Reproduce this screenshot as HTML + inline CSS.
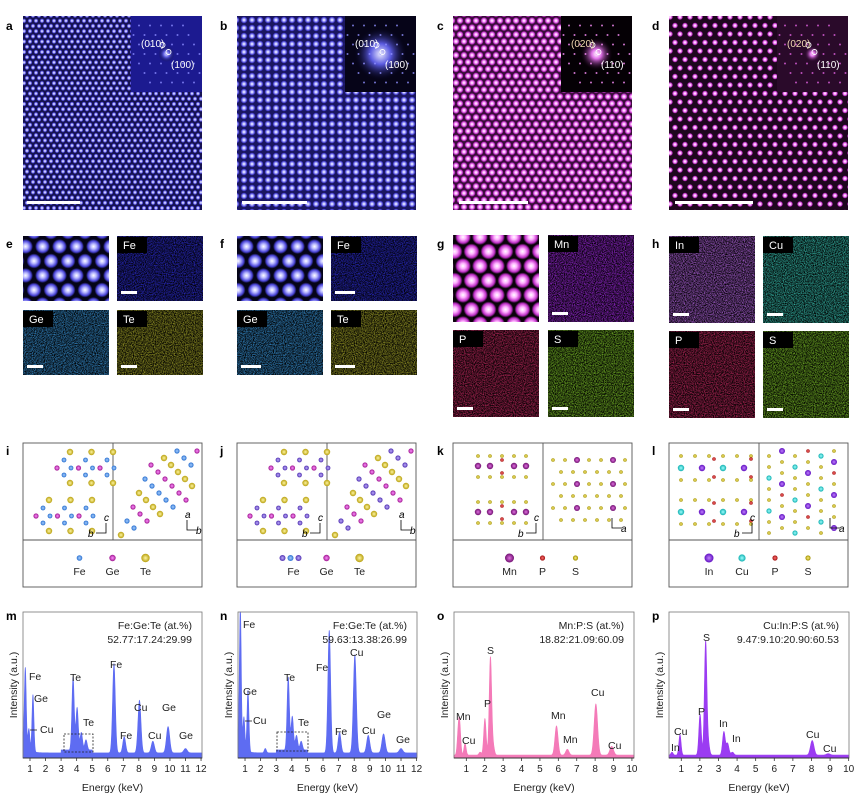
<!DOCTYPE html>
<html><head><meta charset="utf-8">
<style>
html,body{margin:0;padding:0;background:#fff;}
svg{display:block;font-family:"Liberation Sans",sans-serif;}
</style></head>
<body>
<svg id="fig" width="866" height="798" viewBox="0 0 866 798" xmlns="http://www.w3.org/2000/svg">
<defs>
  <radialGradient id="gBlue"><stop offset="0" stop-color="#ffffff"/><stop offset="0.35" stop-color="#b8b8ff"/><stop offset="0.75" stop-color="#4a44d8"/><stop offset="1" stop-color="#4a44d8" stop-opacity="0"/></radialGradient>
  <radialGradient id="gPink"><stop offset="0" stop-color="#ffffff"/><stop offset="0.35" stop-color="#ffb0ff"/><stop offset="0.75" stop-color="#c030c8"/><stop offset="1" stop-color="#c030c8" stop-opacity="0"/></radialGradient>
  <radialGradient id="gGlowB"><stop offset="0" stop-color="#e8e8ff"/><stop offset="0.4" stop-color="#5a5ae0"/><stop offset="1" stop-color="#0a0a30" stop-opacity="0"/></radialGradient>
  <radialGradient id="gGlowP"><stop offset="0" stop-color="#ffffff"/><stop offset="0.3" stop-color="#e070e8"/><stop offset="1" stop-color="#200020" stop-opacity="0"/></radialGradient>
  <pattern id="pa" width="6" height="10.4" patternUnits="userSpaceOnUse"><rect width="6" height="10.4" fill="#151250"/><circle cx="0" cy="0" r="2.4" fill="url(#gBlue)"/><circle cx="6" cy="0" r="2.4" fill="url(#gBlue)"/><circle cx="3" cy="5.2" r="2.4" fill="url(#gBlue)"/><circle cx="0" cy="10.4" r="2.4" fill="url(#gBlue)"/><circle cx="6" cy="10.4" r="2.4" fill="url(#gBlue)"/></pattern>
  <pattern id="pb" width="8" height="8" patternUnits="userSpaceOnUse"><rect width="8" height="8" fill="#1a1660"/><circle cx="4" cy="4" r="3.5" fill="url(#gBlue)"/></pattern>
  <pattern id="pc" width="8" height="13.8" patternUnits="userSpaceOnUse"><rect width="8" height="13.8" fill="#3a0c3a"/><circle cx="0" cy="0" r="3.5" fill="url(#gPink)"/><circle cx="8" cy="0" r="3.5" fill="url(#gPink)"/><circle cx="4" cy="6.9" r="3.5" fill="url(#gPink)"/><circle cx="0" cy="13.8" r="3.5" fill="url(#gPink)"/><circle cx="8" cy="13.8" r="3.5" fill="url(#gPink)"/></pattern>
  <pattern id="pd" width="10" height="17" patternUnits="userSpaceOnUse"><rect width="10" height="17" fill="#1e061e"/><circle cx="0" cy="0" r="3" fill="url(#gPink)"/><circle cx="10" cy="0" r="3" fill="url(#gPink)"/><circle cx="5" cy="8.5" r="3" fill="url(#gPink)"/><circle cx="0" cy="17" r="3" fill="url(#gPink)"/><circle cx="10" cy="17" r="3" fill="url(#gPink)"/></pattern>
  <pattern id="pe" width="17" height="29" patternUnits="userSpaceOnUse"><rect width="17" height="29" fill="#050418"/><circle cx="0" cy="0" r="7.5" fill="url(#gBlue)"/><circle cx="17" cy="0" r="7.5" fill="url(#gBlue)"/><circle cx="8.5" cy="14.5" r="7.5" fill="url(#gBlue)"/><circle cx="0" cy="29" r="7.5" fill="url(#gBlue)"/><circle cx="17" cy="29" r="7.5" fill="url(#gBlue)"/></pattern>
  <pattern id="pg" width="17" height="29" patternUnits="userSpaceOnUse" patternTransform="translate(4,5)"><rect width="17" height="29" fill="#0a020a"/><circle cx="0" cy="0" r="8" fill="url(#gPink)"/><circle cx="17" cy="0" r="8" fill="url(#gPink)"/><circle cx="8.5" cy="14.5" r="8" fill="url(#gPink)"/><circle cx="0" cy="29" r="8" fill="url(#gPink)"/><circle cx="17" cy="29" r="8" fill="url(#gPink)"/></pattern>
  <radialGradient id="aFe"><stop offset="0" stop-color="#a8d0ff"/><stop offset="1" stop-color="#2a70d0"/></radialGradient>
  <radialGradient id="aGe"><stop offset="0" stop-color="#ff90ff"/><stop offset="1" stop-color="#a01890"/></radialGradient>
  <radialGradient id="aTe"><stop offset="0" stop-color="#fff6a0"/><stop offset="1" stop-color="#b8a010"/></radialGradient>
  <radialGradient id="aFe2"><stop offset="0" stop-color="#c0b0ff"/><stop offset="1" stop-color="#5030b0"/></radialGradient>
  <radialGradient id="aMn"><stop offset="0" stop-color="#e070e0"/><stop offset="1" stop-color="#701070"/></radialGradient>
  <radialGradient id="aP"><stop offset="0" stop-color="#ff7070"/><stop offset="1" stop-color="#a01010"/></radialGradient>
  <radialGradient id="aS"><stop offset="0" stop-color="#fff080"/><stop offset="1" stop-color="#a09000"/></radialGradient>
  <radialGradient id="aIn"><stop offset="0" stop-color="#c080ff"/><stop offset="1" stop-color="#6010c0"/></radialGradient>
  <radialGradient id="aCu"><stop offset="0" stop-color="#a0ffff"/><stop offset="1" stop-color="#10b0b0"/></radialGradient>
</defs>
<g id="root"></g>
</svg>
<script>
// ---------------- spectra data ----------------
const mEnergies = [0.70, 0.93, 1.19, 3.77, 4.03, 4.30, 4.60, 6.40, 7.06, 8.04, 8.90, 9.88, 11.0];
const mHeights  = [0.52, 0.14, 0.39, 0.50, 0.29, 0.12, 0.07, 0.61, 0.11, 0.36, 0.08, 0.18, 0.03];
const nEnergies = [0.70, 0.93, 1.19, 2.30, 3.77, 4.03, 4.30, 4.60, 6.40, 7.06, 8.04, 8.90, 9.88, 11.0];
const nHeights  = [0.94, 0.22, 0.42, 0.03, 0.50, 0.23, 0.10, 0.06, 0.84, 0.14, 0.67, 0.12, 0.13, 0.03];
const oEnergies = [0.56, 0.64, 0.93, 1.75, 2.01, 2.31, 2.46, 5.90, 6.49, 8.04, 8.90];
const oHeights  = [0.14, 0.19, 0.08, 0.02, 0.25, 0.67, 0.06, 0.20, 0.04, 0.35, 0.06];
const pEnergies = [0.50, 0.93, 2.01, 2.31, 2.46, 3.29, 3.49, 3.75, 8.04, 8.90];
const pHeights  = [0.02, 0.14, 0.28, 0.78, 0.07, 0.16, 0.08, 0.02, 0.10, 0.01];
const mTicks = [1,2,3,4,5,6,7,8,9,10,11,12];
const oTicks = [1,2,3,4,5,6,7,8,9,10];

const NS = "http://www.w3.org/2000/svg";
const root = document.getElementById('root');
function mk(tag, attrs, parent) {
  const e = document.createElementNS(NS, tag);
  for (const k in attrs) e.setAttribute(k, attrs[k]);
  (parent || root).appendChild(e);
  return e;
}
function txt(s, x, y, size, parent, extra) {
  const a = Object.assign({x: x, y: y, 'font-size': size, fill: '#222'}, extra || {});
  const t = mk('text', a, parent);
  t.textContent = s;
  return t;
}

const letters = [['a',6,30],['b',220,30],['c',437,30],['d',652,30],['e',6,248],['f',220,248],['g',437,248],['h',652,248],
 ['i',6,455],['j',220,455],['k',437,455],['l',652,455],['m',6,620],['n',220,620],['o',437,620],['p',652,620]];
letters.forEach(l => {
  const t = txt(l[0], l[1], l[2], 12, root, {'font-weight':'bold', fill:'#000'});
  
  
});

// ---------------- Row 1 ----------------
const tops = [
  {k:'a', x:23, pat:'pa', inset:'#1c1a90', glow:'gGlowB', gr:8, spots:'#8a8aff', l1:'(010)', l2:'(100)', bar:[27,80]},
  {k:'b', x:237, pat:'pb', inset:'#060418', glow:'gGlowB', gr:26, spots:'#9090ff', l1:'(010)', l2:'(100)', bar:[242,307]},
  {k:'c', x:453, pat:'pc', inset:'#050005', glow:'gGlowP', gr:16, spots:'#ff90ff', l1:'(020)', l2:'(110)', bar:[459,528]},
  {k:'d', x:669, pat:'pd', inset:'#2a0a2a', glow:'gGlowP', gr:8, spots:'#e060e0', l1:'(020)', l2:'(110)', bar:[675,753]}
];
tops.forEach(p => {
  const g = mk('g', {});
  
  
  mk('rect', {x:p.x, y:16, width:179, height:194, fill:'url(#'+p.pat+')'}, g);
  const ins = mk('g', {}, g);
  
  
  const ix = p.x + 108, iy = 16, iw = 71, ih = 76;
  mk('rect', {x:ix, y:iy, width:iw, height:ih, fill:p.inset}, ins);
  mk('circle', {cx:ix+iw/2, cy:iy+ih/2, r:p.gr, fill:'url(#'+p.glow+')'}, ins);
  for (let i=-3;i<=3;i++) for (let j=-3;j<=3;j++) {
    const sx = ix + iw/2 + i*11 + j*5.5, sy = iy + ih/2 + j*9.5;
    if (sx>ix+2 && sx<ix+iw-2 && sy>iy+2 && sy<iy+ih-2) mk('circle', {cx:sx, cy:sy, r:1, fill:p.spots, opacity:0.8}, ins);
  }
  mk('circle', {cx:ix+iw/2-4, cy:iy+29, r:2.5, fill:'none', stroke:'#fff', 'stroke-width':0.9}, ins);
  mk('circle', {cx:ix+iw/2+2, cy:iy+36, r:2.5, fill:'none', stroke:'#fff', 'stroke-width':0.9}, ins);
  txt(p.l1, ix+10, iy+31, 10, ins, {fill: p.k==='c'||p.k==='d' ? '#f0d8b0':'#fff'});
  txt(p.l2, ix+40, iy+52, 10, ins, {fill:'#fff'});
  const sb = mk('rect', {x:p.bar[0], y:201, width:p.bar[1]-p.bar[0], height:3, fill:'#fff'}, g);
  
  
});

// ---------------- Row 2: EDS maps ----------------
function noiseFilter(id, r, gg, b, seed) {
  const f = mk('filter', {id:id, x:0, y:0, width:'100%', height:'100%', 'color-interpolation-filters':'sRGB'});
  mk('feTurbulence', {type:'fractalNoise', baseFrequency:0.9, numOctaves:2, seed:seed, result:'n'}, f);
  const k = 1.5, o = -0.42;
  mk('feColorMatrix', {type:'matrix', values:
    (r*k)+' 0 0 0 '+(r*o)+' '+(gg*k)+' 0 0 0 '+(gg*o)+' '+(b*k)+' 0 0 0 '+(b*o)+' 0 0 0 0 1'}, f);
}
const mapColors = {
  Fe:[0.20,0.20,0.95], Ge:[0.25,0.65,0.95], Te:[0.72,0.72,0.18], Mn:[0.70,0.18,0.98],
  P:[0.85,0.18,0.42], S:[0.55,0.85,0.18], In:[0.80,0.45,1.0], Cu:[0.25,0.85,0.78]
};
let seed = 1;
for (const k in mapColors) { noiseFilter('n'+k, mapColors[k][0], mapColors[k][1], mapColors[k][2], seed++); }

const rows2 = [
  {k:'e', x:[23,117], y:[236,310], tiles:['img','Fe','Ge','Te'], pat:'pe', h:65},
  {k:'f', x:[237,331], y:[236,310], tiles:['img','Fe','Ge','Te'], pat:'pe', h:65},
  {k:'g', x:[453,548], y:[235,330], tiles:['img','Mn','P','S'], pat:'pg', h:87},
  {k:'h', x:[669,763], y:[236,331], tiles:['In','Cu','P','S'], pat:null, h:87}
];
rows2.forEach(p => {
  const g = mk('g', {});
  
  
  p.tiles.forEach((t, i) => {
    const tx = p.x[i%2], ty = p.y[Math.floor(i/2)];
    const w = 86, h = p.h;
    const tg = mk('g', {}, g);
    
    
    if (t==='img') {
      mk('rect', {x:tx, y:ty, width:w, height:h, fill:'url(#'+p.pat+')'}, tg);
    } else {
      mk('rect', {x:tx, y:ty, width:w, height:h, fill:'#000'}, tg);
      mk('rect', {x:tx, y:ty, width:w, height:h, filter:'url(#n'+t+')'}, tg);
      mk('rect', {x:tx, y:ty+1, width:30, height:16, fill:'#000'}, tg);
      txt(t, tx+6, ty+13, 11, tg, {fill:'#fff'});
      mk('rect', {x:tx+4, y:ty+h-10, width: p.k==='f'?20:16, height:3, fill:'#fff'}, tg);
    }
  });
});

// ---------------- Row 3: crystal structures ----------------
function atom(g, x, y, r, grad) { return mk('circle', {cx:x, cy:y, r:r, fill:'url(#'+grad+')'}, g); }
function axisMark(g, x, y, hl, vl, right) {
  const dx = right ? 10 : -10;
  mk('path', {d:'M'+x+' '+(y-10)+' L'+x+' '+y+' L'+(x+dx)+' '+y, fill:'none', stroke:'#000', 'stroke-width':0.8}, g);
  txt(vl, x-2, y-12, 10, g, {'font-style':'italic', fill:'#000'});
  txt(hl, right ? x+9 : x-18, y+4, 10, g, {'font-style':'italic', fill:'#000'});
}
const structs = [
  {k:'i', x:23, legend:[['aFe','Fe',2.8],['aGe','Ge',3.2],['aTe','Te',4.2]]},
  {k:'j', x:237, legend:[['aFe2','Fe',2.8],['aGe','Ge',3.2],['aTe','Te',4.2]]},
  {k:'k', x:453, legend:[['aMn','Mn',4.5],['aP','P',2.6],['aS','S',2.6]]},
  {k:'l', x:669, legend:[['aIn','In',4.5],['aCu','Cu',3.6],['aP','P',2.6],['aS','S',2.6]]}
];
structs.forEach(p => {
  const g = mk('g', {});
  
  
  const x0 = p.x, w = 179, mid = x0 + 90;
  mk('rect', {x:x0, y:443, width:w, height:144, fill:'#fff', stroke:'#555', 'stroke-width':0.9}, g);
  mk('line', {x1:x0, y1:540, x2:x0+w, y2:540, stroke:'#555', 'stroke-width':0.9}, g);
  mk('line', {x1:mid, y1:443, x2:mid, y2:540, stroke:'#555', 'stroke-width':0.9}, g);
  const L = mk('g', {}, g);
  
  
  const R = mk('g', {}, g);
  
  
  if (p.k==='i' || p.k==='j') {
    const fe = p.k==='i' ? 'aFe' : 'aFe2';
    [[452,17],[500,-4]].forEach(blk => {
      const yb = blk[0], off = blk[1];
      for (let c=0;c<3;c++) atom(L, x0+30+off+c*21.5, yb, 3.2, 'aTe');
      for (let c=0;c<3;c++) atom(L, x0+24+off+c*21.5, yb+8, 2.4, fe);
      for (let c=0;c<3;c++) { atom(L, x0+17+off+c*21.5, yb+16, 2.6, 'aGe'); atom(L, x0+31+off+c*21.5, yb+16, 2.4, fe); }
      for (let c=0;c<3;c++) atom(L, x0+24+off+c*21.5, yb+23, 2.4, fe);
      for (let c=0;c<3;c++) atom(L, x0+30+off+c*21.5, yb+31, 3.2, 'aTe');
    });
    for (let r=0;r<6;r++) for (let c=0;c<6;c++) {
      const ax = mid + 8 + c*13 + r*6, ay = 535 - r*14 - c*7;
      if (ax < x0+w-4 && ay > 448 && ax > mid+4) {
        const t = (r+c)%3;
        atom(R, ax, ay, t===0?3.2:2.6, t===0?'aTe':(t===1?fe:'aGe'));
      }
    }
    axisMark(g, mid-7, 533, 'b', 'c', false);
    axisMark(g, x0+w-15, 530, 'b', 'a', true);
  } else if (p.k==='k') {
    [456,502].forEach(yb => {
      for (let c=0;c<5;c++) atom(L, x0+25+c*12, yb, 1.8, 'aS');
      [0,1,3,4].forEach(c => atom(L, x0+25+c*12, yb+10, 3.2, 'aMn'));
      atom(L, x0+49, yb+4, 1.8, 'aP'); atom(L, x0+49, yb+17, 1.8, 'aP');
      for (let c=0;c<5;c++) atom(L, x0+25+c*12, yb+21, 1.8, 'aS');
    });
    for (let r=0;r<6;r++) for (let c=0;c<7;c++) {
      const ax = mid+10+c*12 + (r%2?8:0), ay = 460 + r*12;
      if (ax > x0+w-6) continue;
      if ((r%2===0 && (c%3===2))) atom(R, ax, ay, 3, 'aMn');
      else if (r===2 && (c===2||c===5)) { atom(R, ax-3, ay, 1.8, 'aP'); atom(R, ax+3, ay, 1.8, 'aP'); }
      else atom(R, ax, ay, 1.8, 'aS');
    }
    axisMark(g, mid-7, 533, 'b', 'c', false);
    axisMark(g, x0+w-20, 528, 'a', '', true);
  } else {
    [456,500].forEach(yb => {
      for (let c=0;c<6;c++) atom(L, x0+12+c*14, yb, 1.8, 'aS');
      for (let c=0;c<4;c++) { atom(L, x0+12+c*21, yb+12, 3.2, c%2?'aIn':'aCu'); }
      atom(L, x0+45, yb+3, 1.8, 'aP'); atom(L, x0+82, yb+3, 1.8, 'aP');
      atom(L, x0+45, yb+21, 1.8, 'aP'); atom(L, x0+82, yb+21, 1.8, 'aP');
      for (let c=0;c<6;c++) atom(L, x0+12+c*14, yb+24, 1.8, 'aS');
    });
    for (let r=0;r<8;r++) for (let c=0;c<6;c++) {
      const ax = mid+10+c*13, ay = 456 + r*11 + (c%2?-5:0);
      if (ay > 535) continue;
      const t = (r*2+c)%6;
      if (t===1) atom(R, ax, ay, 3, 'aIn');
      else if (t===4) atom(R, ax, ay, 2.6, 'aCu');
      else if (t===3 && r%2===0) atom(R, ax, ay, 1.8, 'aP');
      else atom(R, ax, ay, 1.8, 'aS');
    }
    axisMark(g, mid-7, 533, 'b', 'c', false);
    axisMark(g, x0+w-18, 528, 'a', '', true);
  }
  const lg = mk('g', {}, g);
  
  
  const n = p.legend.length, sp = 33, cx0 = x0 + w/2 - (n-1)*sp/2;
  p.legend.forEach((a, i) => {
    const cx = cx0 + i*sp;
    if (p.k==='j' && i===0) { atom(lg, cx-11, 558, 3, 'aFe2'); atom(lg, cx-3, 558, 3, 'aFe'); atom(lg, cx+5, 558, 3, 'aFe2'); }
    else atom(lg, cx, 558, a[2], a[0]);
    txt(a[1], cx, 575, 10.5, lg, {'text-anchor':'middle', fill:'#222'});
  });
});

// ---------------- Row 4: EDS spectra ----------------
const spectra = [
  {k:'m', x0:23, x1:202, emin:0.55, ppu:15.55, E:mEnergies, H:mHeights, ticks:mTicks, col:'#5e6cf2', ttl:['Fe:Ge:Te (at.%)','52.77:17.24:29.99'], lowBase:true,
   labels:[['Fe',29,680],['Ge',34,702],['Cu',40,733],['Te',70,681],['Te',83,726],['Fe',110,668],['Fe',120,739],['Cu',134,711],['Ge',162,711],['Cu',148,739],['Ge',179,739]], box:[64,734,93,752]},
  {k:'n', x0:238, x1:417, emin:0.55, ppu:15.6, E:nEnergies, H:nHeights, ticks:mTicks, col:'#5e6cf2', ttl:['Fe:Ge:Te (at.%)','59.63:13.38:26.99'], lowBase:true,
   labels:[['Fe',243,628],['Ge',243,695],['Cu',253,724],['Te',284,681],['Te',298,726],['Fe',316,671],['Fe',335,735],['Cu',350,656],['Ge',377,718],['Cu',362,734],['Ge',396,743]], box:[277,732,308,751]},
  {k:'o', x0:454, x1:634, emin:0.33, ppu:18.4, E:oEnergies, H:oHeights, ticks:oTicks, col:'#f47ab8', ttl:['Mn:P:S (at.%)','18.82:21.09:60.09'], lowBase:false,
   labels:[['Mn',456,720],['Cu',462,744],['P',484,707],['S',487,654],['Mn',551,719],['Mn',563,743],['Cu',591,696],['Cu',608,749]], box:null},
  {k:'p', x0:669, x1:849, emin:0.34, ppu:18.6, E:pEnergies, H:pHeights, ticks:oTicks, col:'#9b3cf2', ttl:['Cu:In:P:S (at.%)','9.47:9.10:20.90:60.53'], lowBase:false,
   labels:[['In',671,751],['Cu',674,735],['P',698,715],['S',703,641],['In',719,727],['In',732,742],['Cu',806,738],['Cu',823,752]], box:null}
];
const yTop = 612, yBase = 758, plotH = 146;
spectra.forEach(s => {
  const g = mk('g', {});
  
  
  const xS = e => s.x0 + (e - s.emin) * s.ppu;
  const yS = v => yBase - v * plotH;
  const emax = s.emin + (s.x1 - s.x0) / s.ppu;
  let d = 'M' + xS(s.emin).toFixed(2) + ' ' + yBase;
  for (let e = s.emin; e <= emax + 1e-9; e += 0.01) {
    let v = s.lowBase ? 0.035 + 0.12*Math.exp(-(e - s.emin)/0.25) : 0.02;
    if (s.lowBase && e > 3 && e < 5) v += 0.02;
    for (let i = 0; i < s.E.length; i++) {
      const sg = 0.055 + 0.005*s.E[i];
      v += s.H[i] * Math.exp(-Math.pow(e - s.E[i], 2) / (2*sg*sg));
    }
    d += ' L' + xS(e).toFixed(2) + ' ' + yS(Math.min(v, 1)).toFixed(2);
  }
  d += ' L' + xS(emax).toFixed(2) + ' ' + yBase + ' Z';
  const area = mk('path', {d:d, fill:s.col, stroke:s.col, 'stroke-width':0.6}, g);
  
  
  const frame = mk('rect', {x:s.x0, y:yTop, width:s.x1-s.x0, height:yBase-yTop, fill:'none', stroke:'#777', 'stroke-width':0.8}, g);
  
  
  const xa = mk('g', {}, g);
  
  
  mk('line', {x1:s.x0, y1:yBase, x2:s.x1, y2:yBase, stroke:'#333', 'stroke-width':0.9}, xa);
  s.ticks.forEach(t => {
    const x = xS(t);
    mk('line', {x1:x, y1:yBase, x2:x, y2:yBase+3, stroke:'#333', 'stroke-width':0.8}, xa);
    txt(String(t), x, yBase+14, 10, xa, {'text-anchor':'middle'});
  });
  const xt = txt('Energy (keV)', (s.x0+s.x1)/2, 791, 10.5, g, {'text-anchor':'middle'});
  
  
  const yt = txt('Intensity (a.u.)', 0, 0, 10.5, g, {'text-anchor':'middle', transform:'translate('+(s.x0-6)+',685) rotate(-90)'});
  
  
  const c1 = txt(s.ttl[0], s.x1-10, 629, 10.5, g, {'text-anchor':'end'});
  
  
  const c2 = txt(s.ttl[1], s.x1-10, 643, 10.5, g, {'text-anchor':'end'});
  
  
  s.labels.forEach(l => {
    const t = txt(l[0], l[1], l[2], 10.5, g, {});
    
    
  });
  if (s.box) {
    const b = mk('rect', {x:s.box[0], y:s.box[1], width:s.box[2]-s.box[0], height:s.box[3]-s.box[1], fill:'none', stroke:'#222', 'stroke-width':0.8, 'stroke-dasharray':'2,1.5'}, g);
    
    
    mk('line', {x1:s.x0+7, y1:s.k==='m'?730:721, x2:s.x0+14, y2:s.k==='m'?730:721, stroke:'#222', 'stroke-width':0.8}, g);
  }
});
</script>
</body></html>
